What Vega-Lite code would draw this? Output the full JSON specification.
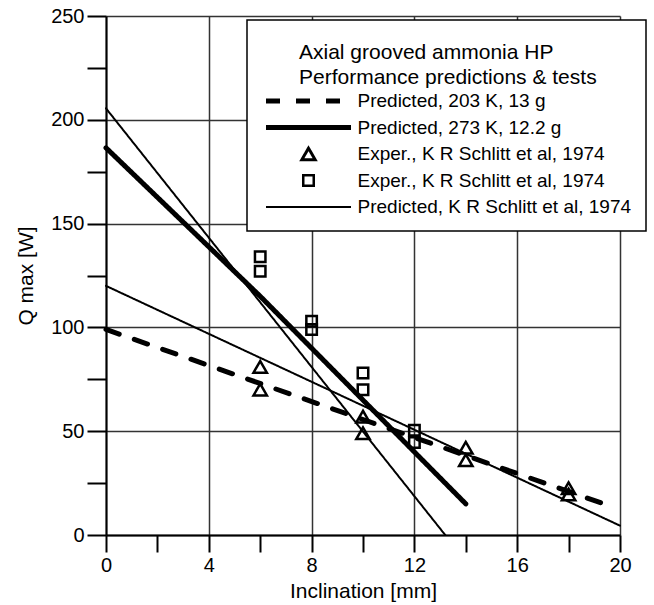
{
  "$schema": "https://vega.github.io/schema/vega-lite/v6.json",
  "width": 514,
  "height": 519,
  "autosize": {"type": "none"},
  "padding": {"left": 106, "top": 16, "right": 34, "bottom": 70},
  "background": "white",
  "config": {
    "font": "Liberation Sans",
    "view": {"stroke": null},
    "axis": {
      "domainColor": "black", "domainWidth": 2,
      "tickColor": "black", "tickWidth": 2,
      "gridColor": "#333333", "gridWidth": 1.5,
      "labelFont": "Liberation Sans", "labelFontSize": 20, "labelColor": "black",
      "titleFont": "Liberation Sans", "titleFontSize": 21, "titleFontWeight": "normal", "titleColor": "black",
      "labelOverlap": false, "labelFlush": false
    },
    "legend": {
      "labelFont": "Liberation Sans", "labelFontSize": 19, "labelColor": "black",
      "titleFont": "Liberation Sans", "titleFontSize": 21, "titleFontWeight": "normal", "titleColor": "black",
      "titleLineHeight": 25, "padding": 14, "strokeColor": "black", "strokeWidth": 1.5, "fillColor": "white",
      "symbolStrokeColor": "black", "symbolFillColor": "transparent",
      "clipHeight": 20, "rowPadding": 6.5, "symbolOffset": 2.5, "labelOffset": 4, "titlePadding": 11,
      "cornerRadius": 0, "labelLimit": 400, "titleLimit": 400
    }
  },
  "datasets": {
    "lines": [
      {"series": "a", "line": "a", "x": 0, "y": 99},
      {"series": "a", "line": "a", "x": 19.6, "y": 14},
      {"series": "b", "line": "b", "x": 0, "y": 186.5},
      {"series": "b", "line": "b", "x": 6, "y": 115},
      {"series": "b", "line": "b", "x": 14, "y": 15},
      {"series": "e", "line": "e1", "x": 0, "y": 205.5},
      {"series": "e", "line": "e1", "x": 13.2, "y": 0},
      {"series": "e", "line": "e2", "x": 0, "y": 120},
      {"series": "e", "line": "e2", "x": 20, "y": 4.5}
    ],
    "points": [
      {"series": "c", "x": 6, "y": 81},
      {"series": "c", "x": 6, "y": 70},
      {"series": "c", "x": 10, "y": 57},
      {"series": "c", "x": 10, "y": 49},
      {"series": "c", "x": 14, "y": 42},
      {"series": "c", "x": 14, "y": 36},
      {"series": "c", "x": 18, "y": 22.5},
      {"series": "c", "x": 18, "y": 19.5},
      {"series": "d", "x": 6, "y": 134},
      {"series": "d", "x": 6, "y": 127},
      {"series": "d", "x": 8, "y": 103},
      {"series": "d", "x": 8, "y": 99},
      {"series": "d", "x": 10, "y": 78},
      {"series": "d", "x": 10, "y": 70},
      {"series": "d", "x": 12, "y": 50.5},
      {"series": "d", "x": 12, "y": 44.5}
    ]
  },
  "encoding": {
    "x": {
      "field": "x", "type": "quantitative",
      "scale": {"domain": [0, 20], "nice": false, "zero": false},
      "axis": {
        "title": "Inclination [mm]",
        "values": [0, 2, 4, 6, 8, 10, 12, 14, 16, 18, 20],
        "labelExpr": "datum.value % 4 === 0 ? datum.label : ''",
        "tickSize": 17,
        "gridOpacity": {"condition": {"test": "datum.value % 4 === 0", "value": 1}, "value": 0},
        "labelPadding": 3, "titlePadding": 5,
        "encode": {"ticks": {"update": {"y2": {"signal": "datum.value % 4 === 0 ? 17 : 9"}}}}
      }
    },
    "y": {
      "field": "y", "type": "quantitative",
      "scale": {"domain": [0, 250], "nice": false, "zero": false},
      "axis": {
        "title": "Q max [W]",
        "values": [0, 25, 50, 75, 100, 125, 150, 175, 200, 225, 250],
        "labelExpr": "datum.value % 50 === 0 ? datum.label : ''",
        "tickSize": 19,
        "gridOpacity": {"condition": {"test": "datum.value % 50 === 0", "value": 1}, "value": 0},
        "labelPadding": 3, "titlePadding": 14,
        "encode": {"ticks": {"update": {"x2": {"signal": "datum.value % 50 === 0 ? -19 : -9"}}}}
      }
    }
  },
  "layer": [
    {
      "data": {"name": "lines"},
      "mark": {"type": "line", "color": "black", "strokeCap": "round"},
      "encoding": {
        "detail": {"field": "line", "type": "nominal"},
        "strokeDash": {
          "field": "series", "type": "nominal",
          "scale": {"domain": ["a", "b", "c", "d", "e"], "range": [[14, 16], [1, 0], [1, 0], [1, 0], [1, 0]]},
          "legend": {
            "title": ["Axial grooved ammonia HP", "Performance predictions & tests"],
            "orient": "none", "legendX": 141, "legendY": 4,
            "labelExpr": "datum.value === 'a' ? 'Predicted, 203 K, 13 g' : datum.value === 'b' ? 'Predicted, 273 K, 12.2 g' : datum.value === 'e' ? 'Predicted, K R Schlitt et al, 1974' : 'Exper., K R Schlitt et al, 1974'",
            "encode": {"title": {"update": {"dx": {"value": 38}, "dy": {"value": 8}}}}
          }
        },
        "strokeWidth": {
          "field": "series", "type": "nominal",
          "scale": {"type": "ordinal", "domain": ["a", "b", "c", "d", "e"], "range": [5, 5, 3, 2.5, 2]},
          "legend": {
            "title": ["Axial grooved ammonia HP", "Performance predictions & tests"],
            "orient": "none", "legendX": 141, "legendY": 4,
            "labelExpr": "datum.value === 'a' ? 'Predicted, 203 K, 13 g' : datum.value === 'b' ? 'Predicted, 273 K, 12.2 g' : datum.value === 'e' ? 'Predicted, K R Schlitt et al, 1974' : 'Exper., K R Schlitt et al, 1974'",
            "encode": {"title": {"update": {"dx": {"value": 38}, "dy": {"value": 8}}}}
          }
        }
      }
    },
    {
      "data": {"name": "points"},
      "mark": {"type": "point", "filled": false, "color": "black", "strokeWidth": 2.5, "opacity": 1},
      "encoding": {
        "shape": {
          "field": "series", "type": "nominal",
          "scale": {"domain": ["a", "b", "c", "d", "e"], "range": ["stroke", "stroke", "triangle-up", "square", "stroke"]},
          "legend": {
            "title": ["Axial grooved ammonia HP", "Performance predictions & tests"],
            "orient": "none", "legendX": 141, "legendY": 4,
            "labelExpr": "datum.value === 'a' ? 'Predicted, 203 K, 13 g' : datum.value === 'b' ? 'Predicted, 273 K, 12.2 g' : datum.value === 'e' ? 'Predicted, K R Schlitt et al, 1974' : 'Exper., K R Schlitt et al, 1974'",
            "encode": {"title": {"update": {"dx": {"value": 38}, "dy": {"value": 8}}}}
          }
        },
        "size": {
          "field": "series", "type": "nominal",
          "scale": {"type": "ordinal", "domain": ["a", "b", "c", "d", "e"], "range": [7225, 7225, 180, 110, 7225]},
          "legend": {
            "title": ["Axial grooved ammonia HP", "Performance predictions & tests"],
            "orient": "none", "legendX": 141, "legendY": 4,
            "labelExpr": "datum.value === 'a' ? 'Predicted, 203 K, 13 g' : datum.value === 'b' ? 'Predicted, 273 K, 12.2 g' : datum.value === 'e' ? 'Predicted, K R Schlitt et al, 1974' : 'Exper., K R Schlitt et al, 1974'",
            "encode": {"title": {"update": {"dx": {"value": 38}, "dy": {"value": 8}}}}
          }
        }
      }
    }
  ]
}
